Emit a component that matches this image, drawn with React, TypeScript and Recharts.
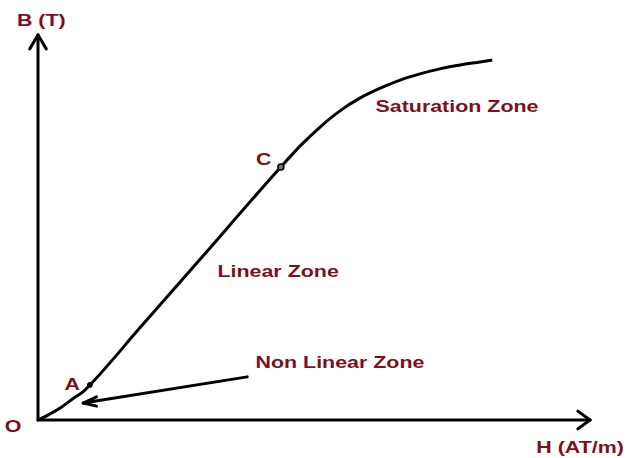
import React from 'react';
import { LineChart, Line, XAxis, YAxis, ReferenceLine, ReferenceDot } from 'recharts';

// B-H magnetisation curve (arbitrary units 0..100)
const H_VALUES = [
  0, 2.2, 4.3, 6.5, 8.3, 9.4, 18.5, 29.4, 44.0, 47.5, 51.1, 54.7, 58.3, 62.0, 65.6, 69.2, 72.8, 76.5,
  80.1, 82.3,
];
const B_VALUES = [
  0, 1.6, 3.4, 5.7, 7.5, 9.1, 24.0, 41.8, 65.7, 71.2, 76.1, 80.3, 83.6, 86.2, 88.3, 89.9, 91.2, 92.2,
  93.0, 93.5,
];

// marked points on the curve
const POINT_A = { h: 9.4, b: 9.1 };
const POINT_C = { h: 44.0, b: 65.7 };

// text annotations: [text, h, b]
const LABELS: [string, number, number][] = [
  ['B (T)', 0.6, 103.9],
  ['O', -4.5, -1.6],
  ['A', 6.2, 9.4],
  ['C', 40.9, 67.8],
  ['H (AT/m)', 98.2, -7.0],
  ['Saturation Zone', 75.9, 81.6],
  ['Linear Zone', 43.5, 38.7],
  ['Non Linear Zone', 54.7, 15.1],
];

// axis lines and arrows, as [x1, y1, x2, y2]
const SEGMENTS: [number, number, number, number][] = [
  [0, 0, 100, 0],
  [0, 0, 0, 100],
  [-1.5, 96.4, 0, 100],
  [1.5, 96.4, 0, 100],
  [97.8, 2.3, 100, 0],
  [97.8, -2.3, 100, 0],
  [37.9, 11.2, 8.2, 4.4],
  [10.6, 6.0, 8.2, 4.4],
  [10.6, 3.6, 8.2, 4.4],
];

const data = H_VALUES.map((h, i) => ({ h, b: B_VALUES[i] }));

const TEXT_COLOR = '#7d0f1f';

const renderText = (text: string) => (props: any) => (
  <text
    transform={`translate(${props.cx},${props.cy}) scale(1.26,1)`}
    textAnchor="middle"
    dominantBaseline="central"
    fill={TEXT_COLOR}
    fontFamily="'Liberation Sans', Arial, sans-serif"
    fontWeight="bold"
    fontSize={17}
  >
    {text}
  </text>
);

export default function App() {
  return (
    <div style={{ position: 'absolute', left: 0, top: 0, background: '#fff' }}>
      <LineChart
        width={626}
        height={458}
        data={data}
        margin={{ top: 35, right: 36, bottom: 38, left: 38 }}
      >
        <XAxis type="number" dataKey="h" domain={[0, 100]} hide />
        <YAxis type="number" domain={[0, 100]} hide />
        {SEGMENTS.map(([x1, y1, x2, y2], i) => (
          <ReferenceLine
            key={`seg-${i}`}
            segment={[{ x: x1, y: y1 }, { x: x2, y: y2 }]}
            stroke="#000"
            strokeWidth={3}
            strokeLinecap="round"
            ifOverflow="visible"
          />
        ))}
        <Line
          type="monotone"
          dataKey="b"
          stroke="#000"
          strokeWidth={3}
          dot={false}
          activeDot={false}
          isAnimationActive={false}
        />
        <ReferenceDot x={POINT_A.h} y={POINT_A.b} r={2.5} fill="#000" stroke="#000" strokeWidth={1} />
        <ReferenceDot x={POINT_C.h} y={POINT_C.b} r={3} fill="#777" stroke="#000" strokeWidth={1.5} />
        {LABELS.map(([text, h, b]) => (
          <ReferenceDot
            key={text}
            x={h}
            y={b}
            r={0}
            ifOverflow="visible"
            shape={renderText(text)}
          />
        ))}
      </LineChart>
    </div>
  );
}
